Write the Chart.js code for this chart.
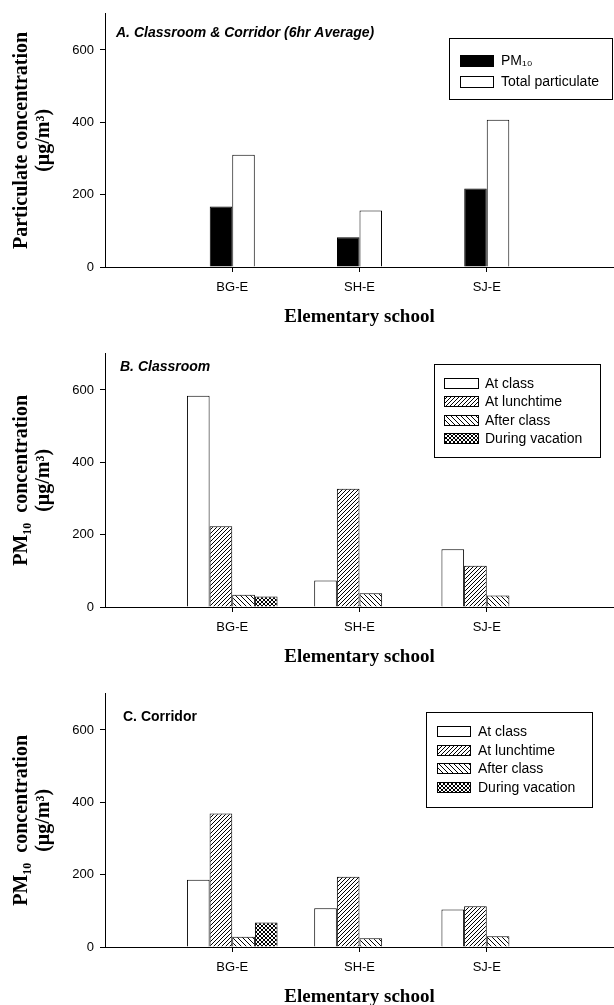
<!DOCTYPE html>
<html><head><meta charset="utf-8">
<script src="https://cdn.jsdelivr.net/npm/chart.js@4.4.0/dist/chart.umd.min.js"></script>
<style>
html,body{margin:0;padding:0;background:#fff;overflow:hidden;width:614px;height:1005px;}
canvas{position:absolute;left:0;}
</style></head><body>
<canvas id="cA" width="622" height="340" style="top:0"></canvas>
<canvas id="cB" width="622" height="340" style="top:340px"></canvas>
<canvas id="cC" width="622" height="340" style="top:680px"></canvas>
<script>
'use strict';
const schools=['BG-E','SH-E','SJ-E'];
const yTicks=[0,200,400,600];
// A. classroom & corridor, 6hr average
const pm10Avg=[167,82,217];
const totalAvg=[310,156,407];
// B. classroom
const clsAtClass=[584,73,160];
const clsLunch=[223,327,114];
const clsAfter=[34,38,32];
const clsVacation=[29,null,null];
// C. corridor
const corAtClass=[186,107,104];
const corLunch=[369,194,113];
const corAfter=[28,24,30];
const corVacation=[68,null,null];

const SANS='"Liberation Sans", Arial, sans-serif';
const SERIF='"Liberation Serif", "Times New Roman", serif';
Chart.defaults.font.family=SANS;
Chart.defaults.color='#000';

const pad=a=>[null,...a,null];

function hatch(kind,s){
  const c=document.createElement('canvas');c.width=c.height=s;
  const x=c.getContext('2d');x.fillStyle='#fff';x.fillRect(0,0,s,s);x.fillStyle='#000';
  for(let i=0;i<s;i++){
    if(kind!=='\\')x.fillRect(i,s-1-i,1,1);
    if(kind!=='/')x.fillRect(i,i,1,1);
  }
  return x.createPattern(c,'repeat');
}
const pLunch=hatch('/',4),pAfter=hatch('\\',5),pVac=hatch('x',4);

const decoPlugin={id:'deco',afterDraw(chart,args,o){
  const ctx=chart.ctx;ctx.save();
  ctx.fillStyle='#000';ctx.font=o.titleFont;ctx.textBaseline='middle';ctx.textAlign='left';
  ctx.fillText(o.title,o.tx,o.ty);
  const b=o.box;
  ctx.strokeStyle='#000';ctx.lineWidth=1;ctx.strokeRect(b.x+.5,b.y+.5,b.w,b.h);
  ctx.font='14px '+SANS;
  chart.data.datasets.forEach((d,i)=>{
    const y=o.row0+i*o.gap,top=Math.round(y-o.sh/2);
    ctx.fillStyle=d.backgroundColor;ctx.fillRect(o.sx,top,o.sw,o.sh);
    ctx.strokeRect(o.sx+.5,top+.5,o.sw,o.sh);
    ctx.fillStyle='#000';ctx.fillText(d.label,o.lx,y+1);
  });
  ctx.restore();
}};

function makeChart(id,yTitle,datasets,cp,deco){
  return new Chart(document.getElementById(id),{
    type:'bar',
    data:{labels:['',...schools,''],datasets},
    options:{
      responsive:false,animation:false,
      layout:{padding:{top:13,right:0,bottom:0,left:0}},
      datasets:{bar:{categoryPercentage:cp,barPercentage:1,borderWidth:1,borderColor:'#000'}},
      plugins:{legend:{display:false},tooltip:{enabled:false},deco},
      scales:{
        x:{offset:false,
          grid:{offset:false,drawOnChartArea:false,tickLength:5,tickColor:c=>(c.index===0||c.index===4)?'rgba(0,0,0,0)':'#000'},
          border:{color:'#000',width:1},
          ticks:{color:'#000',font:{size:13},padding:8,maxRotation:0,autoSkip:false},
          title:{display:true,text:'Elementary school',color:'#000',font:{family:SERIF,size:19,weight:'bold'},padding:{top:0,bottom:12}},
          afterFit:s=>{s.height=73;}},
        y:{min:0,max:700,
          afterBuildTicks:s=>{s.ticks=yTicks.map(v=>({value:v}));},
          grid:{drawOnChartArea:false,tickLength:5,tickColor:'#000'},
          border:{color:'#000',width:1},
          ticks:{color:'#000',font:{size:13},padding:6},
          title:{display:true,text:yTitle,color:'#000',font:{family:SERIF,size:20,weight:'bold',lineHeight:1.1},padding:{top:11,bottom:0}},
          afterFit:s=>{s.width=105;}}
      }
    },
    plugins:[decoPlugin]
  });
}

const fourSets=(a,l,af,v)=>[
  {label:'At class',data:pad(a),backgroundColor:'#fff'},
  {label:'At lunchtime',data:pad(l),backgroundColor:pLunch},
  {label:'After class',data:pad(af),backgroundColor:pAfter},
  {label:'During vacation',data:pad(v),backgroundColor:pVac}
];

makeChart('cA',['Particulate concentration','(\u03bcg/m\u00b3)'],[
  {label:'PM\u2081\u2080',data:pad(pm10Avg),backgroundColor:'#000'},
  {label:'Total particulate',data:pad(totalAvg),backgroundColor:'#fff'}
],0.354,{title:'A. Classroom & Corridor (6hr Average)',titleFont:'italic bold 14px '+SANS,tx:116,ty:33,
  box:{x:449,y:38,w:163,h:61},sx:460,sw:33,sh:11,row0:60,gap:21,lx:501});

makeChart('cB',['PM\u2081\u2080  concentration','(\u03bcg/m\u00b3)'],fourSets(clsAtClass,clsLunch,clsAfter,clsVacation),0.712,
  {title:'B. Classroom',titleFont:'italic bold 14px '+SANS,tx:120,ty:27,
  box:{x:434,y:24,w:166,h:93},sx:444,sw:34,sh:10,row0:43,gap:18.4,lx:485});

makeChart('cC',['PM\u2081\u2080  concentration','(\u03bcg/m\u00b3)'],fourSets(corAtClass,corLunch,corAfter,corVacation),0.712,
  {title:'C. Corridor',titleFont:'bold 14px '+SANS,tx:123,ty:37,
  box:{x:426,y:32,w:166,h:95},sx:437,sw:33,sh:10,row0:51,gap:18.7,lx:478});
</script>
</body></html>
